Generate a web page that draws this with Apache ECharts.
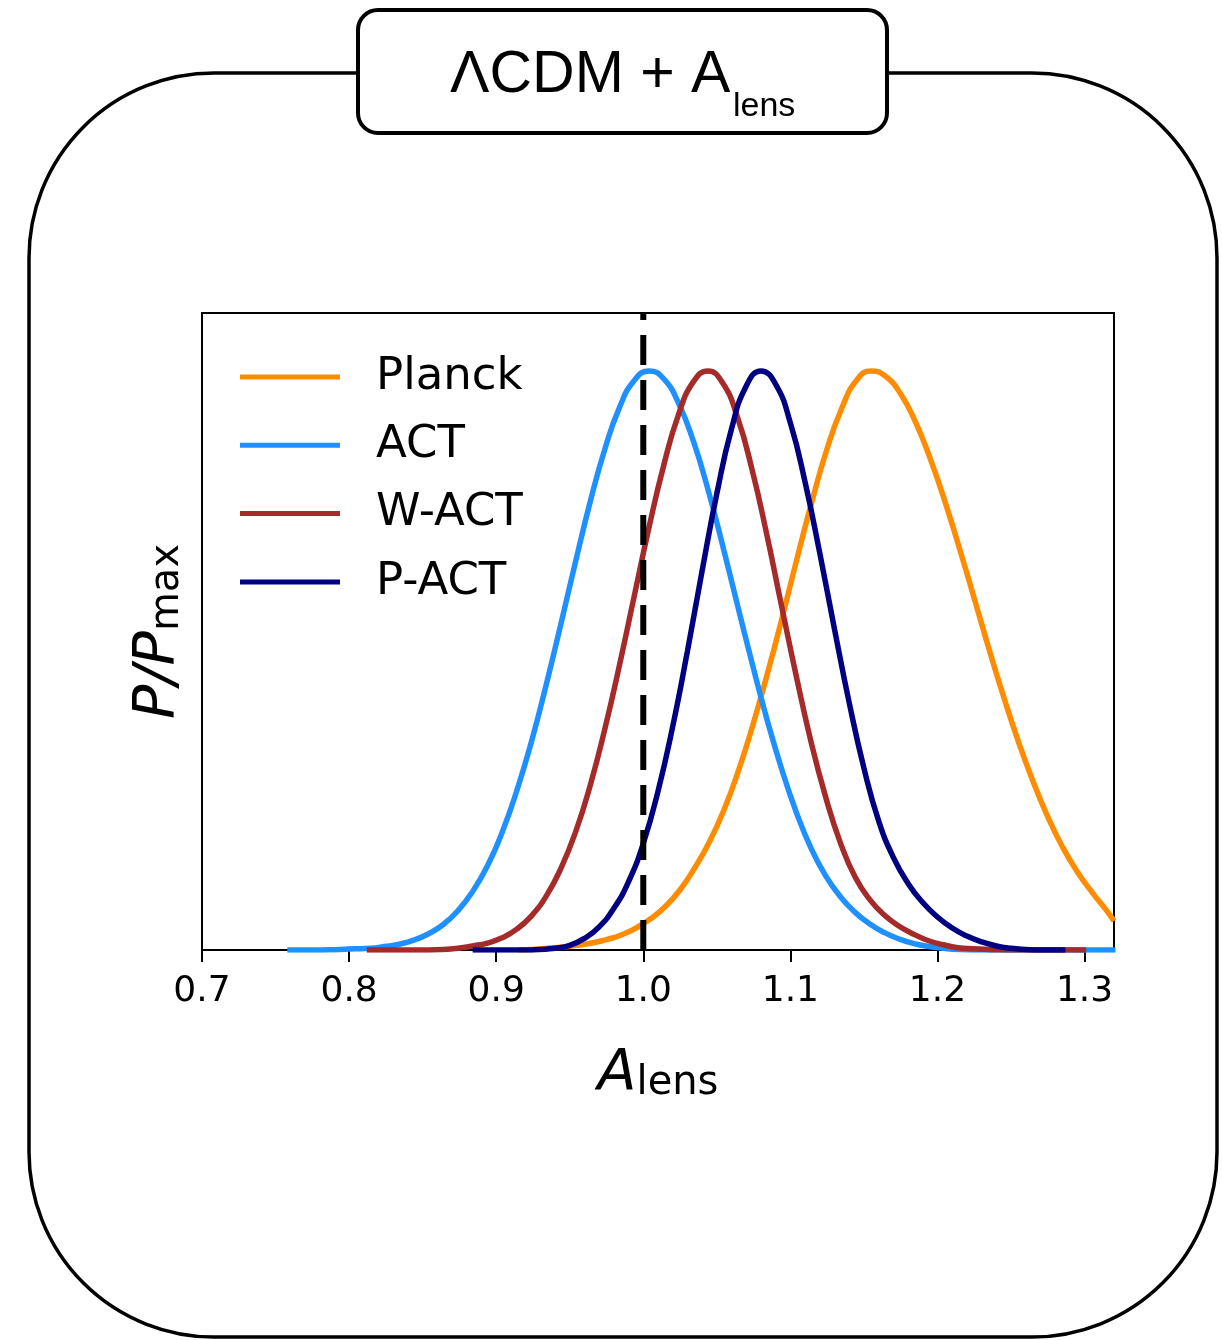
<!DOCTYPE html>
<html><head><meta charset="utf-8">
<script src="https://cdn.jsdelivr.net/npm/echarts@6/dist/echarts.min.js"></script>
<style>html,body{margin:0;padding:0;background:#fff}#c{width:1222px;height:1340px}</style>
</head><body><div id="c"></div>
<script>
// ---- data ----
const seriesNames = ['Planck', 'ACT', 'W-ACT', 'P-ACT'];
const seriesColors = ['#ff8c00', '#1e90ff', '#a52a2a', '#000080'];
const xTicks = [0.7, 0.8, 0.9, 1.0, 1.1, 1.2, 1.3];
const refLineX = 1.0;

const planck = [[0.915,0],[0.925,0.001],[0.935,0.003],[0.945,0.005],[0.955,0.008],[0.965,0.012],[0.975,0.018],[0.985,0.026],[0.995,0.038],[1.005,0.054],[1.015,0.075],[1.025,0.104],[1.035,0.142],[1.045,0.187],[1.055,0.243],[1.065,0.312],[1.075,0.393],[1.085,0.483],[1.095,0.580],[1.105,0.681],[1.115,0.778],[1.125,0.866],[1.135,0.936],[1.145,0.984],[1.155,1.0],[1.165,0.990],[1.175,0.960],[1.185,0.912],[1.195,0.849],[1.205,0.775],[1.215,0.693],[1.225,0.607],[1.235,0.520],[1.245,0.437],[1.255,0.360],[1.265,0.291],[1.275,0.230],[1.285,0.178],[1.295,0.135],[1.305,0.100],[1.315,0.068],[1.32,0.050]];
const act = [[0.758,0],[0.774,0],[0.794,0.001],[0.804,0.002],[0.814,0.003],[0.824,0.006],[0.834,0.010],[0.844,0.017],[0.854,0.028],[0.864,0.044],[0.874,0.068],[0.884,0.101],[0.894,0.145],[0.904,0.203],[0.914,0.275],[0.924,0.360],[0.934,0.458],[0.944,0.563],[0.954,0.671],[0.964,0.775],[0.974,0.866],[0.984,0.938],[0.994,0.984],[1.004,1.0],[1.014,0.986],[1.024,0.944],[1.034,0.879],[1.044,0.795],[1.054,0.698],[1.064,0.596],[1.074,0.495],[1.084,0.399],[1.094,0.313],[1.104,0.238],[1.114,0.176],[1.124,0.128],[1.134,0.092],[1.144,0.065],[1.154,0.045],[1.164,0.030],[1.174,0.019],[1.184,0.011],[1.194,0.006],[1.204,0.003],[1.214,0.001],[1.234,0],[1.26,0],[1.29,0],[1.321,0]];
const wact = [[0.812,0],[0.844,0],[0.864,0.001],[0.874,0.003],[0.884,0.007],[0.894,0.012],[0.904,0.021],[0.914,0.036],[0.924,0.059],[0.934,0.093],[0.944,0.141],[0.954,0.204],[0.964,0.285],[0.974,0.383],[0.984,0.494],[0.994,0.613],[1.004,0.731],[1.014,0.838],[1.024,0.925],[1.034,0.981],[1.044,1.0],[1.054,0.979],[1.064,0.920],[1.074,0.829],[1.084,0.717],[1.094,0.594],[1.104,0.473],[1.114,0.360],[1.124,0.264],[1.134,0.185],[1.144,0.126],[1.154,0.087],[1.164,0.060],[1.174,0.041],[1.184,0.027],[1.194,0.016],[1.204,0.009],[1.214,0.004],[1.224,0.002],[1.234,0.001],[1.254,0],[1.28,0],[1.301,0]];
const pact = [[0.884,0],[0.90,0],[0.92,0],[0.93,0.001],[0.94,0.003],[0.95,0.008],[0.96,0.020],[0.97,0.040],[0.98,0.072],[0.99,0.118],[1.00,0.184],[1.01,0.274],[1.02,0.386],[1.03,0.516],[1.04,0.655],[1.05,0.788],[1.06,0.900],[1.07,0.974],[1.08,1.0],[1.09,0.977],[1.10,0.910],[1.11,0.808],[1.12,0.685],[1.13,0.554],[1.14,0.427],[1.15,0.314],[1.16,0.223],[1.17,0.160],[1.18,0.115],[1.19,0.082],[1.20,0.057],[1.21,0.038],[1.22,0.024],[1.23,0.014],[1.24,0.007],[1.25,0.003],[1.26,0.001],[1.27,0],[1.287,0]];
const seriesData = [planck, act, wact, pact];

// ---- chart ----
const chart = echarts.init(document.getElementById('c'), null, {renderer: 'canvas'});
const FONT = 'DejaVu Sans';
const series = seriesNames.map((n, i) => ({
  name: n, type: 'line', data: seriesData[i], smooth: 0.5,
  showSymbol: false, symbol: 'none', color: seriesColors[i],
  lineStyle: {width: 5.5, color: seriesColors[i]}, z: 2 + i, clip: true, silent: true
}));
series.push({
  name: 'ref', type: 'line', data: [[refLineX, 0], [refLineX, 1.1]], showSymbol: false, symbol: 'none',
  lineStyle: {color: '#000', width: 6, type: [30, 15]}, z: 10, silent: true
});

chart.setOption({
  animation: false,
  backgroundColor: '#fff',
  grid: {left: 202, top: 313, width: 912, height: 637, show: true, borderColor: '#000', borderWidth: 2, backgroundColor: 'transparent'},
  xAxis: {
    type: 'value', min: 0.7, max: 1.32, interval: 0.1,
    axisLine: {show: true, onZero: false, lineStyle: {color: '#000', width: 2}},
    axisTick: {show: true, length: 12, customValues: xTicks, lineStyle: {color: '#000', width: 2}},
    axisLabel: {customValues: xTicks, formatter: v => v.toFixed(1), fontFamily: FONT, fontSize: 36, color: '#000', margin: 24},
    splitLine: {show: false},
    name: '{a|A}{b|lens}', nameLocation: 'middle', nameGap: 84,
    nameTextStyle: {rich: {
      a: {fontFamily: FONT, fontStyle: 'italic', fontSize: 57, lineHeight: 70, verticalAlign: 'bottom', color: '#000'},
      b: {fontFamily: FONT, fontSize: 40, lineHeight: 40, verticalAlign: 'bottom', color: '#000'}
    }}
  },
  yAxis: {
    type: 'value', min: 0, max: 1.1,
    axisLine: {show: true, lineStyle: {color: '#000', width: 2}},
    axisTick: {show: false}, axisLabel: {show: false}, splitLine: {show: false},
    name: '{a|P/P}{b|max}', nameLocation: 'middle', nameRotate: 90, nameGap: 14,
    nameTextStyle: {rich: {
      a: {fontFamily: FONT, fontStyle: 'italic', fontSize: 57, lineHeight: 70, verticalAlign: 'bottom', color: '#000'},
      b: {fontFamily: FONT, fontSize: 40, lineHeight: 40, verticalAlign: 'bottom', color: '#000'}
    }}
  },
  legend: {
    data: seriesNames, orient: 'vertical', left: 240, top: 352, padding: 0,
    itemWidth: 100, itemHeight: 5, icon: 'rect', itemGap: 18.3,
    textStyle: {fontFamily: FONT, fontSize: 45, color: '#000', lineHeight: 50, padding: [0, 0, 0, 31]}
  },
  series: series,
  graphic: [
    {type: 'rect', z: 0, shape: {x: 29, y: 73, width: 1188, height: 1264, r: 185},
     style: {fill: 'none', stroke: '#000', lineWidth: 3.5}},
    {type: 'rect', z: 1, shape: {x: 358, y: 10, width: 529, height: 123, r: 20},
     style: {fill: '#fff', stroke: '#000', lineWidth: 4}},
    {type: 'text', z: 2, x: 450, y: 76,
     style: {text: 'ΛCDM + A', font: '59px "Liberation Sans"', fill: '#000', textAlign: 'left', textVerticalAlign: 'middle'}},
    {type: 'text', z: 2, x: 733, y: 107,
     style: {text: 'lens', font: '34px "Liberation Sans"', fill: '#000', textAlign: 'left', textVerticalAlign: 'middle'}}
  ]
});
</script>
</body></html>
